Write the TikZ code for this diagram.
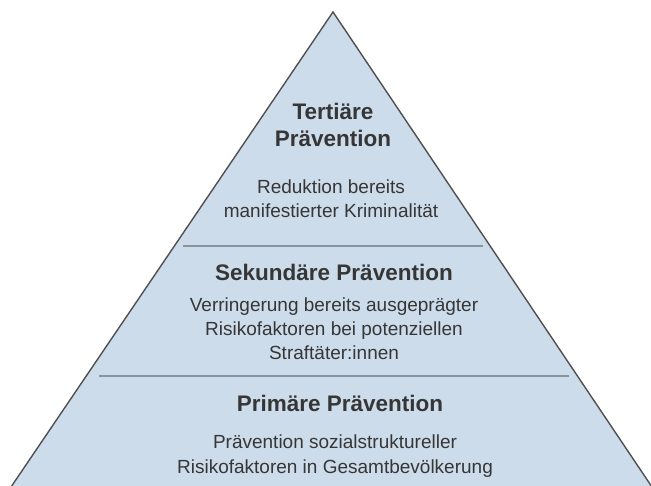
\documentclass[tikz,border=0pt]{standalone}
\usepackage{fontspec}
\setmainfont{Liberation Sans}
\usetikzlibrary{positioning}
\definecolor{pyrfill}{HTML}{CCDCEB}
\definecolor{pyrline}{HTML}{505050}
\definecolor{sepline}{HTML}{8A949E}
\definecolor{txtgray}{HTML}{363636}

\begin{document}
\begin{tikzpicture}[x=1pt, y=-1pt, semithick,
    title/.style={font=\fontsize{22.5}{27}\selectfont\bfseries, text=txtgray, align=center, inner sep=0pt, anchor=base},
    desc/.style={font=\fontsize{19}{24.3}\selectfont, text=txtgray, align=center, inner sep=0pt, anchor=base},
    sep/.style={draw=sepline, line width=1.4pt}]
    \useasboundingbox (0,0) rectangle (651,486);

    % pyramid
    \coordinate (apex) at (333,12);
    \coordinate (baseR) at (652,487);
    \coordinate (baseL) at (11,487);
    \filldraw[fill=pyrfill, draw=pyrline, line width=1.4pt, line join=miter] (apex) -- (baseR) -- (baseL) -- cycle;

    % level separators
    \coordinate (sepAL) at (183,246);
    \coordinate (sepAR) at (483,246);
    \coordinate (sepBL) at (99,376);
    \coordinate (sepBR) at (569,376);
    \draw[sep] (sepAL) -- (sepAR);
    \draw[sep] (sepBL) -- (sepBR);

    % labels (base = baseline of the last line)
    \node[title] (tert) at (333,147) {Tertiäre\\Prävention};
    \node[desc] (tertD) at (331,218) {Reduktion bereits\\manifestierter Kriminalität};
    \node[title] (sek) at (334,281) {Sekundäre Prävention};
    \node[desc] (sekD) at (334,360) {Verringerung bereits ausgeprägter\\Risikofaktoren bei potenziellen\\Straftäter:innen};
    \node[title] (prim) at (340,411) {Primäre Prävention};
    \node[desc] (primD) at (335,473) {Prävention sozialstruktureller\\Risikofaktoren in Gesamtbevölkerung};
\end{tikzpicture}
\end{document}
